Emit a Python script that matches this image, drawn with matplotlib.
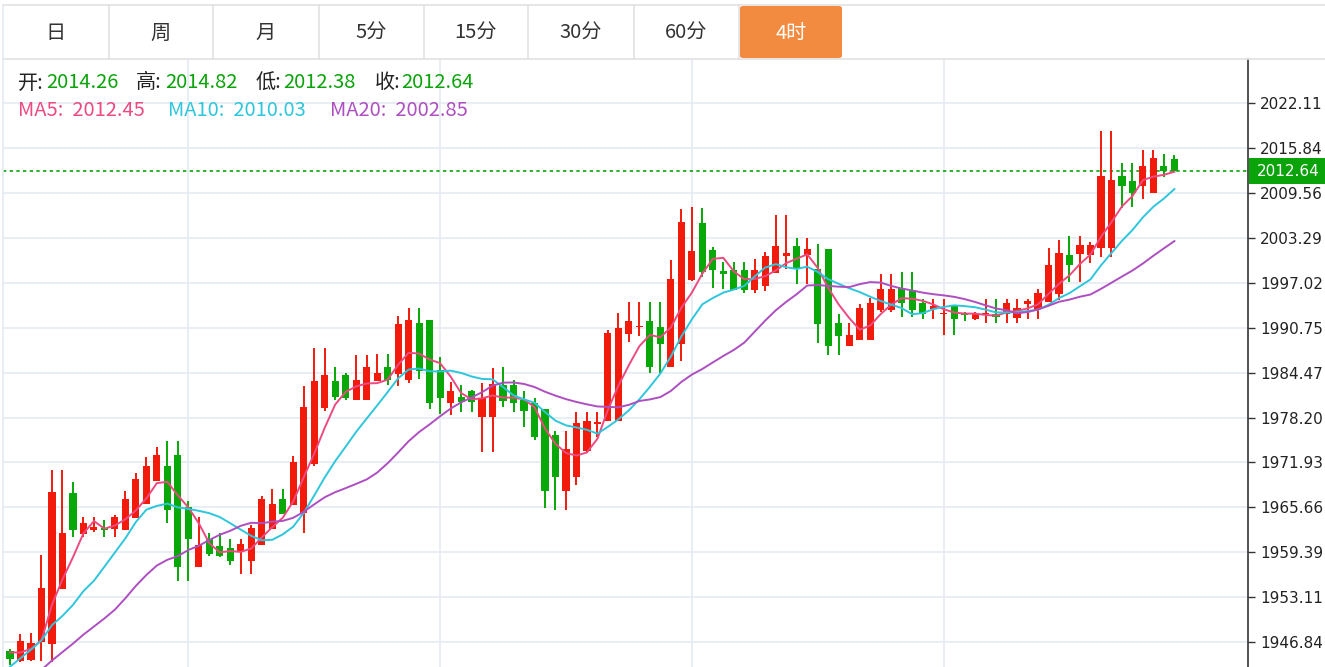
import numpy as np
import pandas as pd
import matplotlib
matplotlib.use("Agg")
import matplotlib.pyplot as plt
from matplotlib.patches import Rectangle, FancyBboxPatch

plt.rcParams['font.family'] = ['Noto Sans CJK SC', 'DejaVu Sans']

# ---- 数据 ----
opens = [1945.63, 1944.28, 1944.38, 1946.93, 1946.61, 1954.23, 1967.70, 1961.89, 1962.50, 1962.82,
         1962.59, 1962.50, 1964.22, 1966.12, 1969.37, 1971.42, 1973.04, 1965.75, 1957.29, 1961.24,
         1960.31, 1959.95, 1959.55, 1958.13, 1960.46, 1962.60, 1966.80, 1965.96, 1964.93, 1971.69,
         1979.47, 1983.29, 1984.13, 1980.64, 1980.64, 1983.29, 1985.30, 1984.27, 1983.43, 1991.36,
         1991.82, 1984.83, 1980.17, 1981.01, 1981.94, 1978.23, 1978.23, 1982.75, 1982.75, 1980.65,
         1980.28, 1979.39, 1975.76, 1967.97, 1969.93, 1973.56, 1977.25, 1977.76, 1977.76, 1989.84,
         1990.77, 1991.66, 1990.77, 1985.19, 1988.45, 1997.38, 2005.38, 2001.56, 1998.63, 1998.77,
         1998.77, 1995.98, 1996.54, 1998.40, 2000.70, 2002.10, 2000.92, 1998.97, 2001.71, 1991.43,
         1988.18, 1989.06, 1989.06, 1993.25, 1993.15, 1996.27, 1996.04, 1994.22, 1993.39, 1992.60,
         1993.71, 1992.69, 1991.90, 1992.60, 1992.69, 1992.69, 1992.13, 1994.06, 1993.38, 1994.31,
         1995.48, 2000.85, 2000.97, 2000.85, 2001.86, 2001.86, 2011.88, 2011.18, 2010.53, 2009.46,
         2013.32, 2014.26]
highs = [1945.91, 1947.96, 1948.09, 1959.01, 1970.86, 1970.86, 1969.14, 1964.36, 1964.36, 1963.89,
         1964.59, 1967.93, 1970.49, 1972.63, 1974.11, 1974.90, 1974.90, 1966.54, 1964.36, 1962.08,
         1962.08, 1961.27, 1961.22, 1963.26, 1967.22, 1968.22, 1968.22, 1972.86, 1982.64, 1987.86,
         1987.86, 1985.20, 1984.37, 1986.93, 1986.93, 1987.07, 1987.07, 1992.43, 1993.45, 1993.45,
         1991.82, 1986.70, 1983.20, 1982.73, 1982.03, 1983.07, 1985.17, 1985.22, 1983.45, 1981.91,
         1980.88, 1979.39, 1976.32, 1976.32, 1978.92, 1978.92, 1978.92, 1990.40, 1992.73, 1994.26,
         1994.26, 1994.26, 1994.26, 2000.17, 2007.28, 2007.51, 2007.47, 2001.93, 1999.93, 1999.93,
         1999.93, 2000.31, 2001.33, 2006.44, 2006.44, 2003.29, 2003.29, 2002.45, 2001.71, 1992.59,
         1991.43, 1993.99, 1994.92, 1998.27, 1998.18, 1998.50, 1998.50, 1994.73, 1994.73, 1994.73,
         1993.71, 1992.92, 1992.92, 1994.78, 1994.78, 1994.69, 1994.69, 1994.80, 1996.18, 2001.86,
         2003.03, 2003.54, 2003.54, 2002.70, 2018.17, 2018.17, 2013.74, 2013.74, 2015.51, 2015.51,
         2014.95, 2014.82]
lows = [1943.68, 1944.14, 1944.28, 1944.28, 1944.14, 1954.23, 1961.57, 1961.57, 1962.27, 1961.57,
        1961.57, 1962.50, 1964.22, 1966.12, 1969.37, 1963.52, 1955.43, 1955.43, 1957.29, 1958.85,
        1958.80, 1957.60, 1956.40, 1956.41, 1960.37, 1962.60, 1964.79, 1965.96, 1962.14, 1971.46,
        1979.15, 1980.64, 1980.64, 1980.64, 1980.64, 1983.29, 1982.73, 1982.64, 1982.97, 1983.57,
        1979.38, 1978.68, 1978.54, 1979.01, 1979.01, 1973.43, 1973.43, 1979.62, 1978.93, 1976.92,
        1975.06, 1965.60, 1965.36, 1965.36, 1968.77, 1973.43, 1975.50, 1977.76, 1977.76, 1988.77,
        1989.61, 1984.36, 1984.36, 1985.19, 1986.12, 1997.28, 1997.75, 1996.21, 1996.12, 1995.98,
        1995.52, 1995.52, 1995.89, 1998.31, 1998.98, 1996.85, 1996.87, 1988.60, 1986.88, 1986.88,
        1988.18, 1989.06, 1989.06, 1992.92, 1992.92, 1992.22, 1992.22, 1991.90, 1991.90, 1989.76,
        1989.76, 1991.67, 1991.76, 1991.43, 1991.43, 1991.43, 1991.43, 1991.95, 1991.98, 1994.31,
        1994.54, 1997.11, 1997.11, 1999.81, 2000.60, 2000.60, 2007.36, 2007.59, 2008.66, 2009.46,
        2011.69, 2012.38]
closes = [1944.47, 1947.07, 1946.75, 1954.37, 1967.75, 1962.13, 1962.50, 1963.43, 1962.97, 1962.45,
          1964.36, 1966.82, 1969.56, 1971.47, 1973.04, 1965.28, 1957.29, 1961.24, 1960.36, 1959.13,
          1958.95, 1958.20, 1960.62, 1962.79, 1966.80, 1966.10, 1964.79, 1972.02, 1979.61, 1983.29,
          1984.13, 1981.01, 1980.87, 1983.43, 1985.30, 1984.37, 1983.43, 1991.26, 1991.82, 1984.69,
          1980.27, 1980.87, 1981.94, 1980.31, 1980.31, 1980.98, 1982.84, 1980.51, 1980.18, 1979.16,
          1975.52, 1967.97, 1969.84, 1973.75, 1977.39, 1977.71, 1977.53, 1990.03, 1990.63, 1991.66,
          1990.96, 1985.29, 1988.45, 1997.47, 2005.42, 2001.47, 1998.54, 1998.77, 1998.17, 1995.98,
          1995.98, 1998.77, 2000.72, 2002.12, 2001.12, 1999.10, 2001.71, 1991.29, 1988.18, 1989.53,
          1989.71, 1993.53, 1994.22, 1996.13, 1996.13, 1994.18, 1993.25, 1992.69, 1993.71, 1992.72,
          1991.90, 1992.45, 1992.69, 1992.78, 1992.22, 1994.18, 1993.48, 1994.43, 1995.62, 1999.53,
          2001.16, 1999.44, 2002.33, 2002.23, 2011.88, 2011.32, 2010.48, 2009.55, 2013.32, 2014.35,
          2012.58, 2012.64]
# 窗口之前的收盘价（只用于计算均线）
prev_closes = [1940.5, 1941.0, 1940.2, 1941.9, 1938.5, 1939.0, 1938.2, 1940.5, 1939.8, 1939.8,
               1935.0, 1935.0, 1941.2, 1946.6, 1949.3, 1947.1, 1944.2, 1948.5, 1942.9]

y_ticks = [2022.11, 2015.84, 2009.56, 2003.29, 1997.02, 1990.75, 1984.47, 1978.20,
           1971.93, 1965.66, 1959.39, 1953.11, 1946.84]
tabs = ['日', '周', '月', '5分', '15分', '30分', '60分', '4时']
active_tab = '4时'
ohlc_labels = ['开:', '高:', '低:', '收:']
ohlc_values = ['2014.26', '2014.82', '2012.38', '2012.64']
ma_labels = ['MA5:  2012.45', 'MA10:  2010.03', 'MA20:  2002.85']
last_price = 2012.64
day_lines = [17, 41, 65, 89]

UP = '#f21a0a'
DOWN = '#07a807'
MA_COLORS = ['#ec4a80', '#2ec6dc', '#ad4fc0']

W, H = 1325, 667
fig = plt.figure(figsize=(W / 100, H / 100), dpi=100)
fig.patch.set_facecolor('white')

def fx(x):
    return x / W

def fy(y):
    return 1 - y / H

# ---- K线区域 ----
left, right, top = 3, 1247.5, 59
ax = fig.add_axes([fx(left), 0, fx(right - left), (H - top) / H])
n = len(closes)
step = 10.49
ax.set_xlim((left - 10) / step, (right - 10) / step)
ax.set_ylim(1943.40, 2028.21)

for s in ['top', 'bottom', 'left']:
    ax.spines[s].set_visible(False)
ax.spines['right'].set_color('#333333')
ax.spines['right'].set_linewidth(1.2)
ax.set_xticks([])
ax.yaxis.tick_right()
ax.set_yticks(y_ticks)
ax.set_yticklabels([f'{v:.2f}' for v in y_ticks], fontfamily='DejaVu Sans', fontsize=11, color='#222222')
ax.tick_params(axis='y', length=5, width=1, color='#333333', pad=4)
ax.grid(axis='y', color='#e4ebf1', lw=1.2)
ax.set_axisbelow(True)
for d in day_lines:
    ax.axvline(d, color='#e4ebf1', lw=1.2, zorder=0)

idx = np.arange(n)
o = np.array(opens); c = np.array(closes); hi = np.array(highs); lo = np.array(lows)
cols = [UP if c[i] >= o[i] else DOWN for i in range(n)]
ax.vlines(idx, lo, hi, colors=cols, lw=1.4, zorder=2)
body_h = np.maximum(np.abs(c - o), 0.15)
ax.bar(idx, body_h, bottom=np.minimum(o, c), width=0.68, color=cols, zorder=3)

# 均线
allc = pd.Series(prev_closes + closes)
for win, col in zip([5, 10, 20], MA_COLORS):
    ma = allc.rolling(win).mean().values[len(prev_closes):]
    ax.plot(idx, ma, color=col, lw=1.4, zorder=4)

ax.axhline(last_price, color='#0aa30a', lw=1.2, ls=(0, (2, 2)), zorder=1)

# 最新价标签
fig.patches.append(Rectangle((fx(1249), fy(184)), fx(76), 26 / H, transform=fig.transFigure,
                             facecolor='#0aa30a', edgecolor='none', zorder=5))
fig.text(fx(1257), fy(171), f'{last_price:.2f}', color='white', fontsize=11,
         fontfamily='DejaVu Sans', va='center', ha='left', zorder=6)

# ---- 顶部周期按钮 ----
edges = [3, 108.6, 212.8, 318.7, 423.5, 528.3, 633.6, 739, 843]
line_col = '#e1e1e1'
fig.add_artist(plt.Line2D([fx(3), 1], [fy(5), fy(5)], color=line_col, lw=1.2))
fig.add_artist(plt.Line2D([fx(3), 1], [fy(59), fy(59)], color=line_col, lw=1.2))
fig.add_artist(plt.Line2D([fx(3), fx(3)], [fy(5), 0], color='#e4ebf1', lw=1.2))
for k, lab in enumerate(tabs):
    x0, x1 = edges[k], edges[k + 1]
    if lab == active_tab:
        fig.patches.append(FancyBboxPatch((fx(x0 + 1), fy(58)), fx(x1 - x0 - 2), 52 / H,
                                          boxstyle='round,pad=0,rounding_size=0.003',
                                          transform=fig.transFigure, facecolor='#f28b3f',
                                          edgecolor='none', zorder=3))
        tc = 'white'
    else:
        tc = '#333333'
    if k > 0:
        fig.add_artist(plt.Line2D([fx(x0), fx(x0)], [fy(5), fy(59)], color=line_col, lw=1.2))
    fig.text(fx((x0 + x1) / 2), fy(33), lab, color=tc, fontsize=14.5, ha='center', va='center', zorder=4)

# ---- 信息栏 ----
lab_x = [18, 136, 256, 375]
val_x = [46.5, 165, 283, 401.5]
for lx, vx, lab, val in zip(lab_x, val_x, ohlc_labels, ohlc_values):
    fig.text(fx(lx), fy(83), lab, color='#222222', fontsize=14.5, ha='left', va='center')
    fig.text(fx(vx), fy(83), val, color='#0aa30a', fontsize=14.5, ha='left', va='center')
for mx, lab, col in zip([18, 168, 330], ma_labels, MA_COLORS):
    fig.text(fx(mx), fy(110.5), lab, color=col, fontsize=14.5, ha='left', va='center')

fig.savefig('out.png', dpi=100)
